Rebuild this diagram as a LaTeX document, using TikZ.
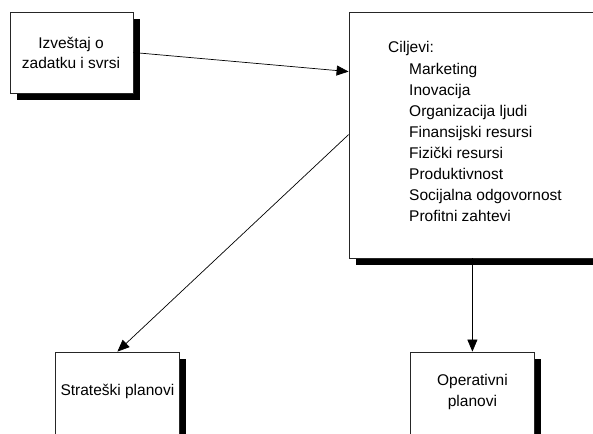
\documentclass[tikz,border=0pt]{standalone}
\usepackage{fontspec}
\setmainfont{Liberation Sans}
\usetikzlibrary{arrows.meta,shadows,calc}

\begin{document}
\begin{tikzpicture}[x=1pt,y=-1pt,
  box/.style={draw=black!85, line width=0.8pt, fill=white, inner sep=0pt,
    general shadow={fill=black, shadow xshift=7pt, shadow yshift=-7pt}},
  txt/.style={font=\fontsize{15.5}{20.5}\selectfont, align=center, inner sep=0pt},
  lst/.style={font=\fontsize{15.5}{21.1}\selectfont, align=left, inner sep=0pt, anchor=north west},
  link/.style={draw=black, line width=0.7pt, -{Triangle[length=12pt,width=10pt]}}]
\useasboundingbox (0,0) rectangle (593,433);
\clip (0,0) rectangle (593,433);

% boxes
\node[box, minimum width=123pt, minimum height=81pt] (izv) at (71.5,52.5) {};
\node[box, minimum width=280pt, minimum height=246pt] (cil) at (489,135) {};
\node[box, minimum width=123.3pt, minimum height=100pt] (str) at (117.4,402) {};
\node[box, minimum width=123.3pt, minimum height=100pt] (op) at (472.4,402) {};

% texts
\node[txt] (izvt) at (71,53) {Izveštaj o\\zadatku i svrsi};
\node[lst] (cilt) at (388,41.5) {Ciljevi:\\
  \hspace{21pt}Marketing\\
  \hspace{21pt}Inovacija\\
  \hspace{21pt}Organizacija ljudi\\
  \hspace{21pt}Finansijski resursi\\
  \hspace{21pt}Fizički resursi\\
  \hspace{21pt}Produktivnost\\
  \hspace{21pt}Socijalna odgovornost\\
  \hspace{21pt}Profitni zahtevi};
\node[txt] (strt) at (117.4,391.5) {Strateški planovi};
\node[txt] (opt) at (472.4,392) {Operativni\\planovi};

% connectors
\coordinate (cilin) at ($(cil.north west)+(0,60)$);
\coordinate (cilout) at ($(cil.north west)+(0,123)$);
\draw[link] (izv.east) -- (cilin);
\draw[link] (cilout) -- (str.north);
\draw[link] (cil.south -| op.north) -- (op.north);
\end{tikzpicture}
\end{document}
